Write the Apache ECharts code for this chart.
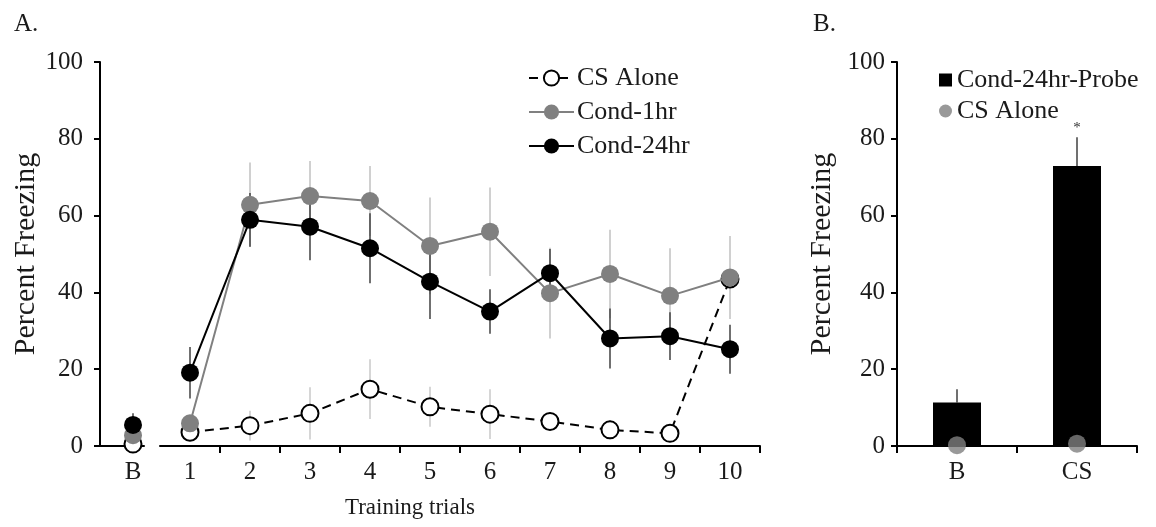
<!DOCTYPE html>
<html><head><meta charset="utf-8">
<script src="https://cdn.jsdelivr.net/npm/echarts@6/dist/echarts.min.js"></script>
<style>html,body{margin:0;padding:0;background:#fff}#c{width:1156px;height:527px}</style>
</head><body><div id="c"></div>
<script>
// ---- Panel A data ----
const baseCats = ['', 'B'];
const trials = ['1','2','3','4','5','6','7','8','9','10'];
const csAloneBase = 0.5, csAloneBaseErr = 1;
const cond1Base = 2.8, cond1BaseErr = 1;
const cond24Base = 5.5, cond24BaseErr = 3;
const csAlone    = [3.6, 5.3, 8.5, 14.8, 10.2, 8.3, 6.4, 4.2, 3.3, 43.5];
const csAloneErr = [1.0, 3.9, 6.8, 7.8, 5.2, 6.5, 1.5, 2.5, 1.0, 0];
const cond1      = [5.9, 62.8, 65.1, 63.8, 52.1, 55.8, 39.8, 44.8, 39.1, 43.9];
const cond1Err   = [1.5, 11, 9.1, 9.1, 12.6, 11.5, 11.8, 11.5, 12.4, 10.8];
const cond24     = [19.1, 58.9, 57.1, 51.5, 42.8, 35, 45, 28, 28.6, 25.2];
const cond24Err  = [6.7, 7, 8.7, 9.1, 9.7, 5.8, 6.3, 7.8, 6.2, 6.4];
const yTicks = [0, 20, 40, 60, 80, 100];
// ---- Panel B data ----
const probeCats = ['B', 'CS'];
const probe = [11.3, 72.9];
const probeErr = [3.5, 7.5];
const probeSig = ['', '*'];
const csAloneProbe = [0.2, 0.6];

const FONT = "'Liberation Serif', 'Times New Roman', serif";
const TXT = '#1a1a1a';
const GRAY = '#808080';

function errData(cats, vals, errs, upperOnly) {
  return cats.map((c, i) => [c, upperOnly ? vals[i] : vals[i] - errs[i], vals[i] + errs[i]]);
}
function errSeries(xi, yi, data, color, sig) {
  return {
    type: 'custom', xAxisIndex: xi, yAxisIndex: yi, z: 1, zlevel: 0, silent: true,
    encode: {x: 0, y: [1, 2]},
    data: data,
    renderItem(params, api) {
      const x = api.value(0);
      const lo = api.coord([x, api.value(1)]);
      const hi = api.coord([x, api.value(2)]);
      const children = [{type: 'line', shape: {x1: lo[0], y1: lo[1], x2: hi[0], y2: hi[1]},
        style: {stroke: color, lineWidth: 1.5}}];
      if (sig && sig[params.dataIndex]) {
        children.push({type: 'text', style: {x: hi[0], y: hi[1] - 2, text: sig[params.dataIndex],
          textAlign: 'center', textVerticalAlign: 'bottom', fill: '#333', font: '15px ' + FONT}});
      }
      return {type: 'group', children};
    }
  };
}
function yAxisCfg(gi, show, gap, margin) {
  return {
    type: 'value', gridIndex: gi, min: 0, max: 100, interval: 20, show: show,
    splitLine: {show: false},
    axisLine: {show: true, lineStyle: {color: '#000', width: 2}},
    axisTick: {show: true, length: 6, lineStyle: {color: '#000', width: 2}},
    axisLabel: {color: TXT, fontFamily: FONT, fontSize: 25, margin: margin,
      formatter: v => (yTicks.indexOf(v) >= 0 ? String(v) : '')},
    name: 'Percent Freezing', nameLocation: 'middle', nameGap: gap,
    nameTextStyle: {color: TXT, fontFamily: FONT, fontSize: 30}
  };
}
const xLab = {color: TXT, fontFamily: FONT, fontSize: 25, margin: 14};
const xLine = {show: true, lineStyle: {color: '#000', width: 2}};
const csStyle = {symbol: 'circle', symbolSize: 17, showAllSymbol: true,
  itemStyle: {color: '#fff', borderColor: '#000', borderWidth: 2}, lineStyle: {color: '#000', width: 2, type: [9, 6]}};
const c1Style = {symbol: 'circle', symbolSize: 18, showAllSymbol: true, itemStyle: {color: GRAY}, lineStyle: {color: GRAY, width: 2}};
const c24Style = {symbol: 'circle', symbolSize: 18, showAllSymbol: true, itemStyle: {color: '#000'}, lineStyle: {color: '#000', width: 2}};

const chart = echarts.init(document.getElementById('c'));
chart.setOption({
  animation: false,
  backgroundColor: '#fff',
  grid: [
    {left: 100, top: 62, width: 44, height: 384},
    {left: 160, top: 62, width: 600, height: 384},
    {left: 897, top: 62, width: 240, height: 384}
  ],
  xAxis: [
    {type: 'category', gridIndex: 0, data: baseCats, axisLine: xLine, axisTick: {show: false}, axisLabel: xLab},
    {type: 'category', gridIndex: 1, data: trials, axisLine: xLine,
      axisTick: {show: true, length: 7, interval: (i) => i !== 0, lineStyle: {color: '#000', width: 2}}, axisLabel: xLab},
    {type: 'category', gridIndex: 2, data: probeCats, axisLine: xLine,
      axisTick: {show: true, length: 7, lineStyle: {color: '#000', width: 2}}, axisLabel: xLab}
  ],
  yAxis: [yAxisCfg(0, true, 57, 17), yAxisCfg(1, false, 0, 0), yAxisCfg(2, true, 60, 12)],
  legend: [
    {
      data: ['CS Alone', 'Cond-1hr', 'Cond-24hr'], orient: 'vertical', left: 523, top: 60,
      itemWidth: 45, itemHeight: 19, itemGap: 8, selectedMode: false,
      textStyle: {color: TXT, fontFamily: FONT, fontSize: 26, padding: [0, 0, 0, -2]}
    },
    {
      data: [{name: 'Cond-24hr-Probe', icon: 'rect'}, {name: 'CS Alone B', icon: 'circle'}],
      orient: 'vertical', left: 934, top: 62, itemWidth: 13, itemHeight: 13, itemGap: 5, selectedMode: false,
      formatter: n => n === 'CS Alone B' ? 'CS Alone' : n,
      textStyle: {color: TXT, fontFamily: FONT, fontSize: 26}
    }
  ],
  graphic: [
    {type: 'text', x: 14, y: 12, style: {text: 'A.', font: '25px ' + FONT, fill: TXT}},
    {type: 'text', x: 813, y: 12, style: {text: 'B.', font: '25px ' + FONT, fill: TXT}},
    {type: 'text', x: 410, y: 508, style: {text: 'Training trials', font: '23px ' + FONT, fill: TXT,
      textAlign: 'center', textVerticalAlign: 'middle'}}
  ],
  series: [
    // error bars
    errSeries(0, 0, [['B', csAloneBase - csAloneBaseErr, csAloneBase + csAloneBaseErr]], '#c8c8c8'),
    errSeries(0, 0, [['B', cond1Base - cond1BaseErr, cond1Base + cond1BaseErr]], '#c0c0c0'),
    errSeries(0, 0, [['B', cond24Base - cond24BaseErr, cond24Base + cond24BaseErr]], '#404040'),
    errSeries(1, 1, errData(trials, csAlone, csAloneErr), '#c8c8c8'),
    errSeries(1, 1, errData(trials, cond1, cond1Err), '#c0c0c0'),
    errSeries(1, 1, errData(trials, cond24, cond24Err), '#404040'),
    // baseline points
    Object.assign({name: 'CS Alone', type: 'line', xAxisIndex: 0, yAxisIndex: 0, zlevel: 1, data: [['B', csAloneBase]]}, csStyle),
    Object.assign({name: 'Cond-1hr', type: 'line', xAxisIndex: 0, yAxisIndex: 0, zlevel: 2, data: [['B', cond1Base]]}, c1Style),
    Object.assign({name: 'Cond-24hr', type: 'line', xAxisIndex: 0, yAxisIndex: 0, zlevel: 3, data: [['B', cond24Base]]}, c24Style),
    // trial lines
    Object.assign({name: 'CS Alone', type: 'line', xAxisIndex: 1, yAxisIndex: 1, zlevel: 1, data: csAlone}, csStyle),
    Object.assign({name: 'Cond-1hr', type: 'line', xAxisIndex: 1, yAxisIndex: 1, zlevel: 2, data: cond1}, c1Style),
    Object.assign({name: 'Cond-24hr', type: 'line', xAxisIndex: 1, yAxisIndex: 1, zlevel: 3, data: cond24}, c24Style),
    // panel B
    errSeries(2, 2, errData(probeCats, probe, probeErr, true), '#404040', probeSig),
    {name: 'Cond-24hr-Probe', type: 'bar', xAxisIndex: 2, yAxisIndex: 2, z: 2, data: probe, barWidth: 48,
      itemStyle: {color: '#000'}},
    {name: 'CS Alone B', type: 'scatter', xAxisIndex: 2, yAxisIndex: 2, zlevel: 1, data: csAloneProbe,
      symbol: 'circle', symbolSize: 18, itemStyle: {color: GRAY}}
  ]
});
</script></body></html>
